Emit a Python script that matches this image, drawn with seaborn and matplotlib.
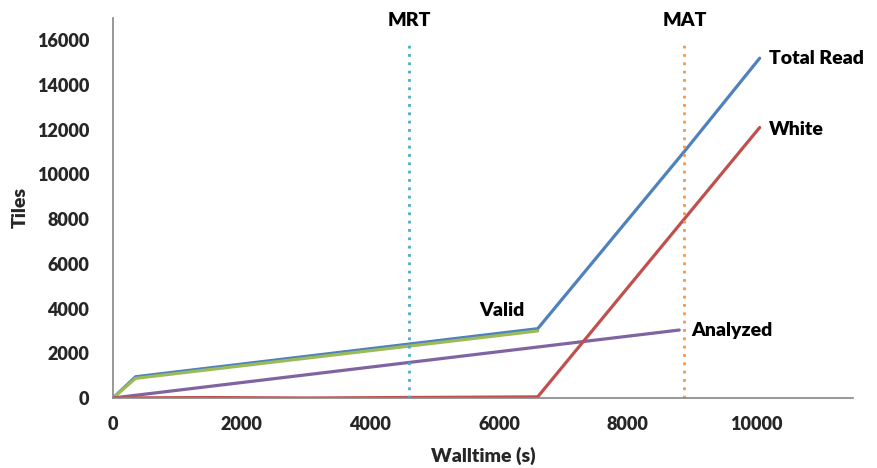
import pandas as pd
import matplotlib.pyplot as plt
import seaborn as sns

# Tiles processed over walltime
total_t = [0, 350, 6600, 8900, 10050]
total_v = [0, 950, 3100, 11100, 15200]

valid_t = [0, 350, 6600]
valid_v = [0, 880, 3000]

white_t = [0, 1500, 3000, 6600, 10050]
white_v = [0, 20, 0, 50, 12100]

analyzed_t = [0, 8800]
analyzed_v = [0, 3040]

mrt = 4600
mat = 8880

sns.set_style("white")
plt.rcParams['font.family'] = ['Lato', 'DejaVu Sans']
plt.rcParams['font.weight'] = 'bold'

fig = plt.figure(figsize=(8.77, 4.68), dpi=100)
ax = fig.add_axes([0.1289, 0.1496, 0.8437, 0.812])

series = [
    (total_t, total_v, '#4F81BD'),
    (valid_t, valid_v, '#9BBB59'),
    (analyzed_t, analyzed_v, '#8064A2'),
    (white_t, white_v, '#C0504D'),
]
for t, v, c in series:
    sns.lineplot(x=t, y=v, ax=ax, color=c, linewidth=2.3, sort=False)

ax.plot([mrt, mrt], [0, 15800], color='#4BACC6', linestyle=(0, (1, 2)), linewidth=2)
ax.plot([mat, mat], [0, 15900], color='#F79646', linestyle=(0, (1, 2)), linewidth=2)

ax.set_xlim(0, 11500)
ax.set_ylim(0, 17000)
ax.set_xticks(range(0, 10001, 2000))
ax.set_yticks(range(0, 16001, 2000))

for s in ['top', 'right']:
    ax.spines[s].set_visible(False)
for s in ['left', 'bottom']:
    ax.spines[s].set_color('#868686')
    ax.spines[s].set_linewidth(1.2)
ax.tick_params(axis='both', direction='out', length=5, width=1.2, color='#868686',
               labelsize=13)
ax.tick_params(axis='y', pad=12)
ax.tick_params(axis='x', pad=8)
for lab in ax.get_xticklabels() + ax.get_yticklabels():
    lab.set_fontweight('heavy')

ax.set_xlabel('Walltime (s)', fontsize=14, fontweight='heavy', labelpad=10)
ax.set_ylabel('Tiles', fontsize=14, fontweight='heavy', labelpad=6)

lab_kw = dict(fontsize=14, fontweight='heavy', color='black')
ax.text(10200, 15200, 'Total Read', ha='left', va='center', **lab_kw)
ax.text(10200, 12000, 'White', ha='left', va='center', **lab_kw)
ax.text(6050, 3900, 'Valid', ha='center', va='center', **lab_kw)
ax.text(8990, 3020, 'Analyzed', ha='left', va='center', **lab_kw)
ax.text(mrt, 16900, 'MRT', ha='center', va='center', **lab_kw)
ax.text(mat, 16900, 'MAT', ha='center', va='center', **lab_kw)

fig.savefig('out.png', dpi=100)
